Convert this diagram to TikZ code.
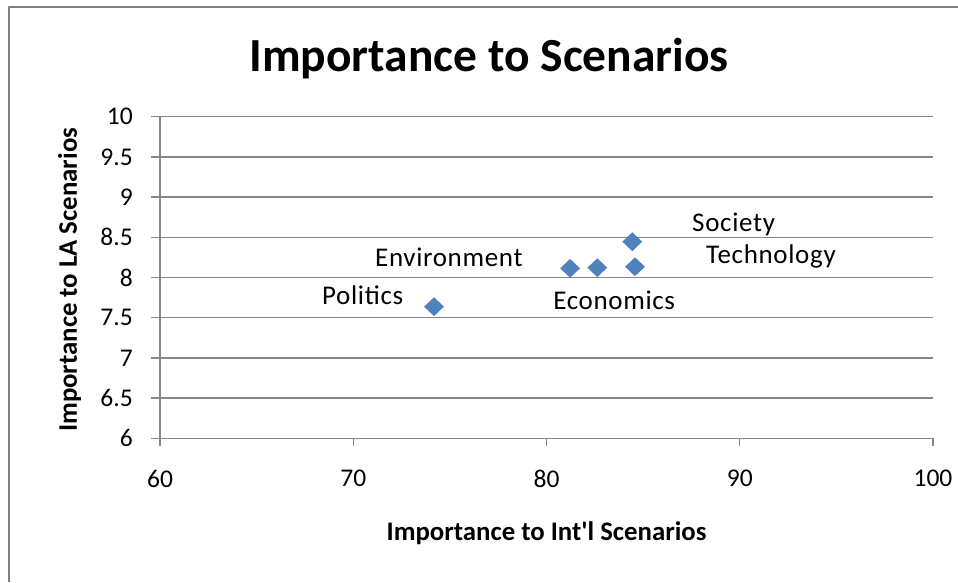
\documentclass[tikz,border=0pt]{standalone}
\usepackage{fontspec}
\setmainfont{Carlito}
\newfontfamily\ptfont[LetterSpace=2.5]{Carlito}
\usetikzlibrary{shapes.geometric}
\definecolor{gridgray}{RGB}{134,134,134}
\definecolor{framegray}{RGB}{128,128,128}
\definecolor{ptblue}{RGB}{79,129,189}
\begin{document}
\begin{tikzpicture}[x=1pt,y=1pt,line join=round,
    gridline/.style={draw=gridgray,line width=1.3pt},
    ptmark/.style={diamond,fill=ptblue,inner sep=0pt,minimum width=20pt,minimum height=19pt},
    ptlabel/.style={font=\ptfont\fontsize{27}{31}\selectfont,anchor=base west,inner sep=0pt},
    ticklabel/.style={font=\fontsize{25.5}{30}\selectfont,inner sep=0pt},
    axtitle/.style={font=\bfseries\fontsize{26.8}{32}\selectfont,inner sep=0pt,anchor=base}]
  \useasboundingbox (0,0) rectangle (958,582);
  % chart frame, right and bottom edges are cut off
  \draw[framegray,line width=2.2pt] (9,0) -- (9,575) -- (958,575);
  \node[font=\bfseries\fontsize{47.5}{56}\selectfont,anchor=base,inner sep=0pt] (title) at (489.2,510.3) {Importance to Scenarios};
  % plot in data units
  \begin{scope}[x=19.325pt,y=80.4pt,xshift=-999.5pt,yshift=-338.7pt]
    \foreach \v [count=\i] in {6,6.5,7,7.5,8,8.5,9,9.5,10} {
      \draw[gridline] (59.53,\v) -- (100,\v);
      \node[ticklabel,anchor=east] (ytick\i) at (58.6,\v) {\v};
    }
    \draw[gridline] (60,10) -- (60,6);
    \foreach \v in {60,70,80,90,100} {
      \draw[gridline] (\v,6) -- (\v,5.9);
      \node[ticklabel] (xtick\v) at (\v,5.5) {\v};
    }
    \node[axtitle] (xtitle) at (80,4.73) {Importance to Int\textquotesingle l Scenarios};
    \node[axtitle,rotate=90] (ytitle) at (55.7,7.97) {Importance to LA Scenarios};
    % data points
    \foreach \n/\px/\py in {pPol/74.18/7.637, pEnv/81.22/8.114, pEco/82.63/8.122,
        pSoc/84.44/8.445, pTec/84.58/8.134}
      \node[ptmark] (\n) at (\px,\py) {};
    % data labels
    \foreach \n/\lx/\ly/\t in {lEnv/71.125/8.134/Environment, lPol/68.38/7.658/Politics,
        lSoc/87.53/8.570/Society, lTec/88.25/8.177/Technology, lEco/80.34/7.596/Economics}
      \node[ptlabel] (\n) at (\lx,\ly) {\t};
  \end{scope}
\end{tikzpicture}
\end{document}
